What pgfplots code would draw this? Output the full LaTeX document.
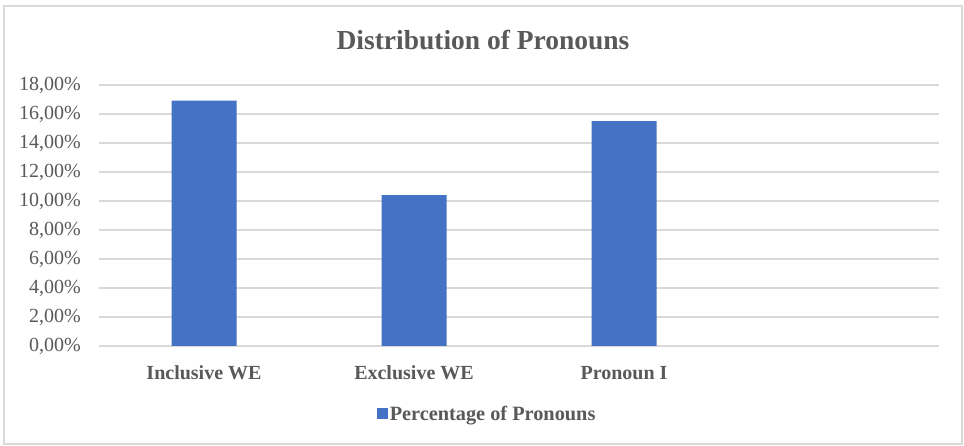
\documentclass[border=0pt]{standalone}
\usepackage{fontspec}
\setmainfont{Liberation Serif}
\usepackage{pgfplots}
\pgfplotsset{compat=1.18}
\definecolor{barblue}{HTML}{4472C4}
\definecolor{gridgray}{HTML}{D9D9D9}
\definecolor{txtgray}{HTML}{595959}
\definecolor{framegray}{HTML}{DADADA}
\begin{document}
\begin{tikzpicture}
\useasboundingbox (0,0) rectangle (964bp,446bp);
\fill[white] (0,0) rectangle (964bp,446bp);
\draw[framegray, line width=1.5bp] (4bp,2bp) rectangle (962bp,440bp);
\node[anchor=base, text=txtgray, font=\bfseries\fontsize{27.5bp}{32bp}\selectfont, inner sep=0pt] at (483bp,396bp) {Distribution of Pronouns};
\begin{axis}[
  at={(99bp,100bp)}, anchor=south west,
  scale only axis, width=840bp, height=261bp,
  ybar, bar width=65bp,
  xmin=-0.5, xmax=3.5, ymin=0, ymax=18,
  xtick={0,1,2}, xticklabels={Inclusive WE, Exclusive WE, Pronoun I},
  ytick={0,2,...,18},
  yticklabel={\pgfmathprintnumber[fixed,fixed zerofill,precision=2,use comma]{\tick}\%},
  /pgf/number format/assume math mode=true,
  axis line style={draw=none},
  tick style={draw=none},
  ymajorgrids, grid style={gridgray, line width=1.2bp},
  yticklabel style={inner sep=0pt, xshift=-18bp, text=txtgray, font=\fontsize{20bp}{24bp}\selectfont},
  xticklabel style={inner sep=0pt, yshift=-15bp, text height=14bp, text depth=0pt, text=txtgray, font=\bfseries\fontsize{20bp}{24bp}\selectfont},
  legend style={at={(0.462,-0.26)}, anchor=center, draw=none, fill=none,
    font=\bfseries\fontsize{20.3bp}{24bp}\selectfont, text=txtgray,
    nodes={inner sep=1.5bp}},
  legend image code/.code={\fill[barblue] (0bp,-5.5bp) rectangle (11bp,5.5bp);},
]
\addplot[fill=barblue, draw=none] coordinates {(0,16.92) (1,10.41) (2,15.5)};
\addlegendentry{Percentage of Pronouns}
\end{axis}
\end{tikzpicture}
\end{document}
